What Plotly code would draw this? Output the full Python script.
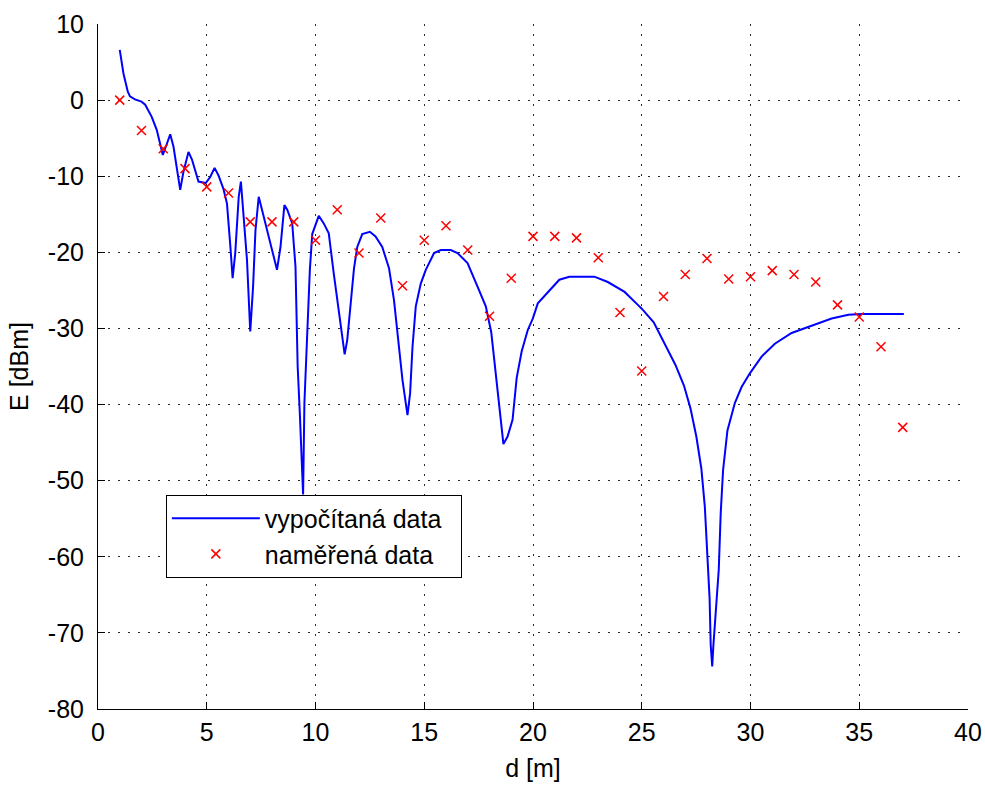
import plotly.graph_objects as go

# computed curve (vypočítaná data)
d_calc = [1.00, 1.17, 1.37, 1.47, 1.70, 2.00, 2.17, 2.47, 2.70, 2.86, 2.98, 3.17, 3.32, 3.47, 3.60,
          3.78, 3.93, 4.16, 4.32, 4.47, 4.62, 4.95, 5.16, 5.36, 5.54, 5.77, 5.93, 6.08, 6.19, 6.31,
          6.47, 6.57, 6.70, 6.85, 7.00, 7.13, 7.24, 7.39, 7.54, 7.77, 8.08, 8.23, 8.39, 8.57, 8.70,
          8.93, 9.08, 9.18, 9.28, 9.39, 9.43, 9.49, 9.62, 9.74, 9.85, 10.00, 10.15, 10.38, 10.61,
          10.84, 11.07, 11.23, 11.34, 11.46, 11.61, 11.77, 11.92, 12.15, 12.50, 12.76, 13.07, 13.38,
          13.61, 13.84, 14.00, 14.15, 14.23, 14.35, 14.46, 14.61, 14.84, 15.07, 15.45, 15.76, 16.22,
          16.53, 16.99, 17.45, 17.83, 18.08, 18.29, 18.53, 18.64, 18.83, 19.06, 19.25, 19.48, 19.76,
          19.99, 20.22, 20.68, 21.21, 21.67, 22.21, 22.82, 23.44, 24.06, 24.21, 24.82, 25.00, 25.55,
          26.05, 26.55, 26.94, 27.24, 27.51, 27.74, 27.90, 28.02, 28.12, 28.17, 28.24, 28.29, 28.43,
          28.54, 28.63, 28.74, 28.94, 29.28, 29.59, 29.97, 30.51, 31.12, 31.89, 32.81, 33.73, 34.50,
          35.12, 37.05]
E_calc = [6.6, 3.5, 1.1, 0.5, 0.1, -0.2, -0.6, -2.2, -3.9, -5.6, -7.2, -5.7, -4.5, -6.1, -8.3,
          -11.8, -9.4, -6.8, -7.8, -9.2, -10.7, -10.9, -10.1, -8.9, -9.9, -11.7, -13.6, -19.0, -23.4, -20.1,
          -12.7, -10.7, -15.8, -21.0, -30.4, -24.5, -17.1, -12.7, -14.4, -17.1, -20.6, -22.3, -19.3, -13.8, -14.4,
          -16.2, -21.9, -35.0, -41.2, -49.0, -51.8, -39.8, -31.1, -22.3, -17.6, -16.4, -15.2, -16.2, -17.5,
          -22.8, -27.6, -30.6, -33.4, -31.5, -26.5, -22.1, -19.3, -17.6, -17.3, -17.9, -19.3, -22.1,
          -26.3, -32.4, -36.8, -39.8, -41.4, -38.5, -32.4, -27.1, -24.1, -22.3, -20.1, -19.7, -19.7,
          -20.1, -21.4, -24.5, -27.1, -30.5, -36.0, -41.8, -45.2, -44.2, -42.0, -36.5, -33.0, -30.2,
          -28.7, -26.7, -25.2, -23.6, -23.2, -23.2, -23.2, -23.9, -25.0, -25.2, -26.9, -27.4, -29.2,
          -32.0, -34.8, -37.5, -40.5, -44.2, -48.4, -53.4, -59.6, -65.5, -71.6, -74.4, -71.8, -66.8,
          -61.7, -54.3, -48.6, -43.4, -39.8, -37.7, -35.9, -33.7, -32.0, -30.6, -29.6, -28.7, -28.2,
          -28.1, -28.1]

# measured data (naměřená data)
d_meas = list(range(1, 38))
E_meas = [0.0, -4.0, -6.4, -9.0, -11.4, -12.2, -16.0, -16.0, -16.0, -18.4,
          -14.4, -20.1, -15.5, -24.4, -18.4, -16.5, -19.7, -28.4, -23.4, -17.9,
          -17.9, -18.1, -20.7, -27.9, -35.6, -25.8, -22.9, -20.8, -23.5, -23.2,
          -22.4, -22.9, -23.9, -26.9, -28.5, -32.4, -43.0]

x_ticks = [0, 5, 10, 15, 20, 25, 30, 35, 40]
y_ticks = [10, 0, -10, -20, -30, -40, -50, -60, -70, -80]

FONT = "Liberation Sans, Arial, sans-serif"
FS = 25

fig = go.Figure()
fig.add_trace(go.Scatter(x=d_calc, y=E_calc, mode="lines", name="vypočítaná data\u00a0\u00a0",
                         line=dict(color="#0000ff", width=2)))
fig.add_trace(go.Scatter(x=d_meas, y=E_meas, mode="markers", name="naměřená data",
                         marker=dict(symbol="x-thin", size=9, color="#ff0000",
                                     line=dict(color="#ff0000", width=1.5))))

axis_common = dict(
    showline=True, linecolor="black", linewidth=1,
    ticks="inside", ticklen=7, tickcolor="black", tickwidth=1,
    showgrid=True, gridcolor="#2a2a2a", gridwidth=1, griddash="2px,8px",
    zeroline=False, mirror=False,
    tickfont=dict(family=FONT, size=FS, color="black"),
)

fig.update_layout(
    width=985, height=787,
    margin=dict(l=98, r=17, t=24, b=78),
    paper_bgcolor="white", plot_bgcolor="white",
    font=dict(family=FONT, size=FS, color="black"),
    xaxis=dict(range=[0, 40], tickvals=x_ticks, ticktext=[str(v) for v in x_ticks],
               title=dict(text="d [m]", standoff=14, font=dict(family=FONT, size=FS)),
               ticklabelstandoff=1, automargin=False, **axis_common),
    yaxis=dict(range=[-80, 10], tickvals=y_ticks, ticktext=[str(v) for v in y_ticks],
               title=dict(text="E [dBm]", standoff=12, font=dict(family=FONT, size=FS)),
               ticklabelstandoff=8, automargin=False, **axis_common),
    showlegend=True,
    legend=dict(x=0.078, y=0.313, xanchor="left", yanchor="top",
                bgcolor="white", bordercolor="black", borderwidth=1,
                font=dict(family=FONT, size=FS, color="black"),
                itemwidth=88, tracegroupgap=0),
)

# remove the default page margin so the 985x787 figure fills the window exactly
fig.write_html("out.html",
               config={"displayModeBar": False, "staticPlot": True},
               post_script="document.body.style.margin='0';document.body.style.overflow='hidden';")
